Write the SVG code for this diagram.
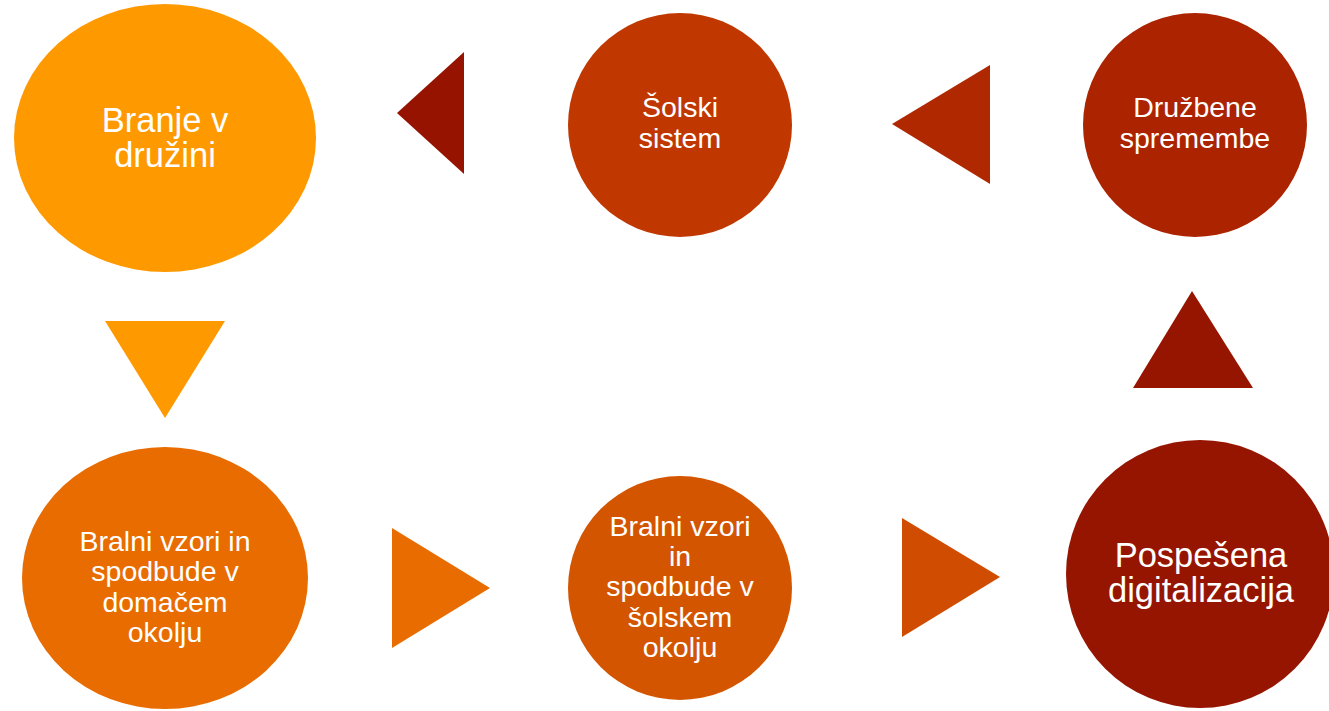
<svg xmlns="http://www.w3.org/2000/svg" width="1329" height="711" viewBox="0 0 1329 711">
<style>
text{font-family:"Liberation Sans",Arial,sans-serif;fill:#fff;text-anchor:middle}
.l{font-size:34.5px}
.m{font-size:28.5px}
</style>
<rect width="1329" height="711" fill="#fff"/>
<g id="connectors">
<polygon points="397,113 464,52 464,174" fill="#961300"/>
<polygon points="892,124 990,65 990,184" fill="#B02800"/>
<polygon points="1192,291 1253,388 1133,388" fill="#961500"/>
<polygon points="105,321 225,321 165,418" fill="#FF9900"/>
<polygon points="392,528 490,588 392,648" fill="#E86C00"/>
<polygon points="902,518 1000,577 902,637" fill="#D04C00"/>
</g>
<g id="n1"><ellipse cx="165" cy="138" rx="151" ry="134" fill="#FF9900"/>
<text class="l" x="165" y="132">Branje v</text><text class="l" x="165" y="167">družini</text></g>
<g id="n2"><circle cx="680" cy="125" r="112" fill="#C03800"/>
<text class="m" x="680" y="117">Šolski</text><text class="m" x="680" y="148">sistem</text></g>
<g id="n3"><circle cx="1195" cy="125" r="112" fill="#AC2300"/>
<text class="m" x="1195" y="117">Družbene</text><text class="m" x="1195" y="148">spremembe</text></g>
<g id="n4"><ellipse cx="165" cy="578" rx="143" ry="131" fill="#E86C00"/>
<text class="m" x="165" y="551">Bralni vzori in</text><text class="m" x="165" y="581">spodbude v</text><text class="m" x="165" y="612">domačem</text><text class="m" x="165" y="642">okolju</text></g>
<g id="n5"><circle cx="680" cy="588" r="112" fill="#D45500"/>
<text class="m" x="680" y="536">Bralni vzori</text><text class="m" x="680" y="566">in</text><text class="m" x="680" y="596">spodbude v</text><text class="m" x="680" y="627">šolskem</text><text class="m" x="680" y="657">okolju</text></g>
<g id="n6"><circle cx="1200" cy="574" r="134" fill="#961500"/>
<text class="l" x="1201" y="567">Pospešena</text><text class="l" x="1201" y="602">digitalizacija</text></g>
</svg>
